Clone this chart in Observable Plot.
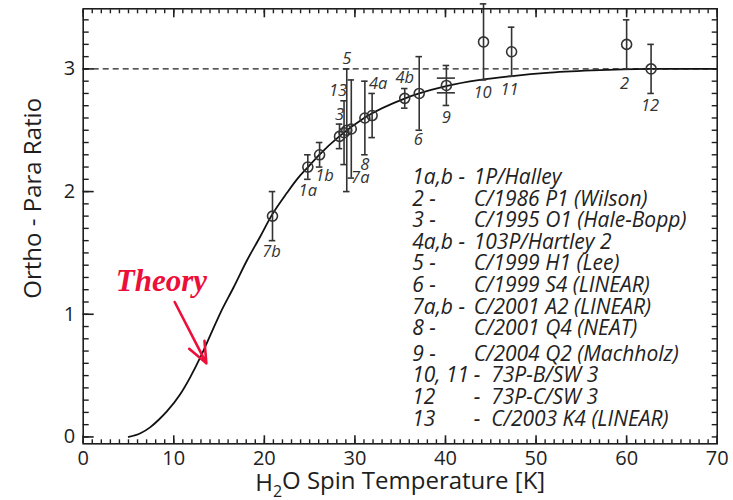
<!DOCTYPE html>
<html>
<head>
<meta charset="utf-8">
<script src="https://cdn.jsdelivr.net/npm/d3@7"></script>
<script src="https://cdn.jsdelivr.net/npm/@observablehq/plot@0.6"></script>
<style>
  html, body { margin: 0; padding: 0; background: #fff; }
</style>
</head>
<body>
<div id="chart"></div>
<script>
// ---- Data ----
const pointIds = ["7b","1a","1b","3","13","5","7a","8","4a","4b","6","9","10","11","2","12"];
const temps    = [20.9, 24.8, 26.1, 28.3, 28.8, 29.1, 29.6, 31.1, 31.9, 35.5, 37.1, 40.1, 44.2, 47.3, 60.0, 62.7];
const ratios   = [1.80, 2.20, 2.30, 2.45, 2.48, 2.50, 2.51, 2.60, 2.62, 2.76, 2.80, 2.865, 3.22, 3.14, 3.20, 3.00];
const errors   = [0.20, 0.10, 0.10, 0.10, 0.26, 0.50, 0.40, 0.30, 0.18, 0.08, 0.30, 0.163, 0.31, 0.20, 0.20, 0.20];

// second (inner) error estimate shown for point 9
const innerIds  = ["9"];
const innerErrs = [0.06];

// theory curve
const theoryT     = [5.03, 6.32, 7.42, 8.34, 9.26, 10.73, 11.84, 12.94, 14.04, 15.14, 16.61, 18.09, 19.52, 20.84, 22.50, 23.60, 24.82, 26.06, 28.27, 31.02, 35.55, 37.09, 40.07, 43.82, 47.13, 51.54, 57.05, 62.56, 70.0];
const theoryRatio = [0.00, 0.03, 0.08, 0.14, 0.21, 0.35, 0.49, 0.65, 0.83, 1.01, 1.22, 1.44, 1.63, 1.81, 1.99, 2.10, 2.20, 2.30, 2.45, 2.60, 2.76, 2.80, 2.86, 2.91, 2.94, 2.97, 2.99, 3.00, 3.00];

const highTempLimit = [3];

// legend
const legendKeys  = ["1a,b -", "2 -", "3 -", "4a,b -", "5 -", "6 -", "7a,b -", "8 -", "9 -", "10, 11", "12", "13"];
const legendNames = ["1P/Halley", "C/1986 P1 (Wilson)", "C/1995 O1 (Hale-Bopp)", "103P/Hartley 2", "C/1999 H1 (Lee)", "C/1999 S4 (LINEAR)", "C/2001 A2 (LINEAR)", "C/2001 Q4 (NEAT)", "C/2004 Q2 (Machholz)", "-\u00a0\u00a073P-B/SW 3", "-\u00a0\u00a073P-C/SW 3", "-\u00a0\u00a0C/2003 K4 (LINEAR)"];

// annotation
const theoryLabel = [{text: "Theory", x: 3.6, y: 1.27}];
const theoryArrow = [{x1: 10.1, y1: 1.10, x2: 13.6, y2: 0.60}];

const xTicks = [0, 10, 20, 30, 40, 50, 60, 70];
const yTicks = [0, 1, 2, 3];

// ---- layout (label placement relative to the error-bar ends, px) ----
const labelPlacement = {
  "7b": ["below", -1, 11], "1a": ["below", 0, 11], "1b": ["below", 5, 9],
  "3": ["above", 0, -9], "13": ["above", -6, -10], "5": ["above", 0, -10],
  "7a": ["below", 9, 0], "8": ["below", 0, 10], "4a": ["above", 6, -10],
  "4b": ["above", 0, -11], "6": ["below", -1, 9], "9": ["below", 0, 12],
  "10": ["below", -1, 13], "11": ["below", -2, 13], "2": ["below", -2, 15], "12": ["below", -1, 12]
};

const points = pointIds.map((id, i) => ({id, t: temps[i], r: ratios[i], e: errors[i]}));
const inner = innerIds.map((id, i) => {
  const p = points.find(d => d.id === id);
  return {id, t: p.t, r: p.r, e: innerErrs[i]};
});
const theory = theoryT.map((t, i) => ({t, r: theoryRatio[i]}));

const ink = "#1e1e1e";
const red = "#ec0f3a";
const capHalf = 0.36;      // in x units
const wideCapHalf = 1.0;
const font = "Open Sans";

const labelMarks = points.map(p => {
  const [side, dx, dy] = labelPlacement[p.id];
  return Plot.text([p], {
    x: "t", y: d => side === "above" ? d.r + d.e : d.r - d.e, text: "id",
    dx, dy, fontSize: 16.5, fontStyle: "italic", fill: "#333", fontFamily: font
  });
});

const legendMarks = legendKeys.flatMap((k, i) => {
  const dy = 168.4 + i * 21.6 + (i >= 8 ? 4 : 0);
  return [
    Plot.text([k], {frameAnchor: "top-left", dx: 329, dy, textAnchor: "start", lineAnchor: "middle",
      fontSize: 21, fontStyle: "italic", fill: "#222", fontFamily: font}),
    Plot.text([legendNames[i]], {frameAnchor: "top-left", dx: 390.5, dy, textAnchor: "start", lineAnchor: "middle",
      fontSize: 21, fontStyle: "italic", fill: "#222", fontFamily: font})
  ];
});

const plot = Plot.plot({
  width: 733,
  height: 500,
  marginLeft: 82.7,
  marginRight: 16.3,
  marginTop: 8.3,
  marginBottom: 56.7,
  style: {fontFamily: font, fontSize: "20px", color: ink, background: "#fff"},
  x: {domain: [0, 70], label: null},
  y: {domain: [-0.056, 3.49], label: null},
  marks: [
    // reference level
    Plot.ruleY(highTempLimit, {stroke: ink, strokeWidth: 1.3, strokeDasharray: "6,4"}),
    // theory
    Plot.line(theory, {x: "t", y: "r", curve: "monotone-x", stroke: "#111", strokeWidth: 1.8}),
    // error bars
    Plot.ruleX(points, {x: "t", y1: d => d.r - d.e, y2: d => d.r + d.e, stroke: "#333", strokeWidth: 1.6}),
    Plot.ruleY(points, {y: d => d.r + d.e, x1: d => d.t - capHalf, x2: d => d.t + capHalf, stroke: "#333", strokeWidth: 1.6}),
    Plot.ruleY(points, {y: d => d.r - d.e, x1: d => d.t - capHalf, x2: d => d.t + capHalf, stroke: "#333", strokeWidth: 1.6}),
    Plot.ruleY(inner, {y: d => d.r + d.e, x1: d => d.t - wideCapHalf, x2: d => d.t + wideCapHalf, stroke: "#333", strokeWidth: 1.6}),
    Plot.ruleY(inner, {y: d => d.r - d.e, x1: d => d.t - wideCapHalf, x2: d => d.t + wideCapHalf, stroke: "#333", strokeWidth: 1.6}),
    Plot.dot(points, {x: "t", y: "r", r: 5, stroke: "#333", strokeWidth: 1.6, fill: "none"}),
    ...labelMarks,
    ...legendMarks,
    // annotation
    Plot.text(theoryLabel, {x: "x", y: "y", text: "text", textAnchor: "start", lineAnchor: "middle",
      fill: red, fontSize: 31, fontWeight: "bold", fontStyle: "italic", fontFamily: "Liberation Serif"}),
    Plot.arrow(theoryArrow, {x1: "x1", y1: "y1", x2: "x2", y2: "y2", stroke: red, strokeWidth: 2.6,
      headLength: 13, headAngle: 45}),
    // axes: labels
    Plot.axisX(xTicks, {anchor: "bottom", tickSize: 0, tickPadding: 7, fontSize: 20, label: null, tickFormat: d => String(d)}),
    Plot.axisY(yTicks, {anchor: "left", tickSize: 0, tickPadding: 8, fontSize: 20, label: null, tickFormat: d => String(d)}),
    // axes: inward ticks on all four sides
    Plot.axisX(d3.range(0, 71, 1), {anchor: "bottom", tickSize: -4, fill: "none", label: null, stroke: ink, strokeWidth: 1.4}),
    Plot.axisX(xTicks, {anchor: "bottom", tickSize: -8, fill: "none", label: null, stroke: ink, strokeWidth: 1.6}),
    Plot.axisX(d3.range(0, 71, 1), {anchor: "top", tickSize: -4, fill: "none", label: null, stroke: ink, strokeWidth: 1.4}),
    Plot.axisX(xTicks, {anchor: "top", tickSize: -8, fill: "none", label: null, stroke: ink, strokeWidth: 1.6}),
    Plot.axisY(d3.range(0, 35).map(i => i / 10), {anchor: "left", tickSize: -6, fill: "none", label: null, stroke: ink, strokeWidth: 1.4}),
    Plot.axisY(yTicks, {anchor: "left", tickSize: -11, fill: "none", label: null, stroke: ink, strokeWidth: 1.6}),
    Plot.axisY(d3.range(0, 35).map(i => i / 10), {anchor: "right", tickSize: -6, fill: "none", label: null, stroke: ink, strokeWidth: 1.4}),
    // axis titles
    Plot.text(["Ortho - Para Ratio"], {frameAnchor: "left", dx: -50, dy: -28, rotate: -90, textAnchor: "middle", lineAnchor: "middle",
      fontSize: 24, fill: ink, fontFamily: font}),
    Plot.text(["H2O Spin Temperature [K]"], {frameAnchor: "bottom", dy: 40, lineAnchor: "middle", fontSize: 24, fill: ink, fontFamily: font, className: "xtitle"}),
    Plot.frame({stroke: ink, strokeWidth: 1.6})
  ]
});

document.getElementById("chart").appendChild(plot);

// subscript 2 in the x title
d3.select(plot).selectAll(".xtitle text").each(function() {
  const t = d3.select(this);
  t.text(null);
  t.append("tspan").text("H");
  t.append("tspan").attr("font-size", "16px").attr("dy", "0.35em").text("2");
  t.append("tspan").attr("dy", "-0.35em").text("O Spin Temperature [K]");
});
</script>
</body>
</html>
